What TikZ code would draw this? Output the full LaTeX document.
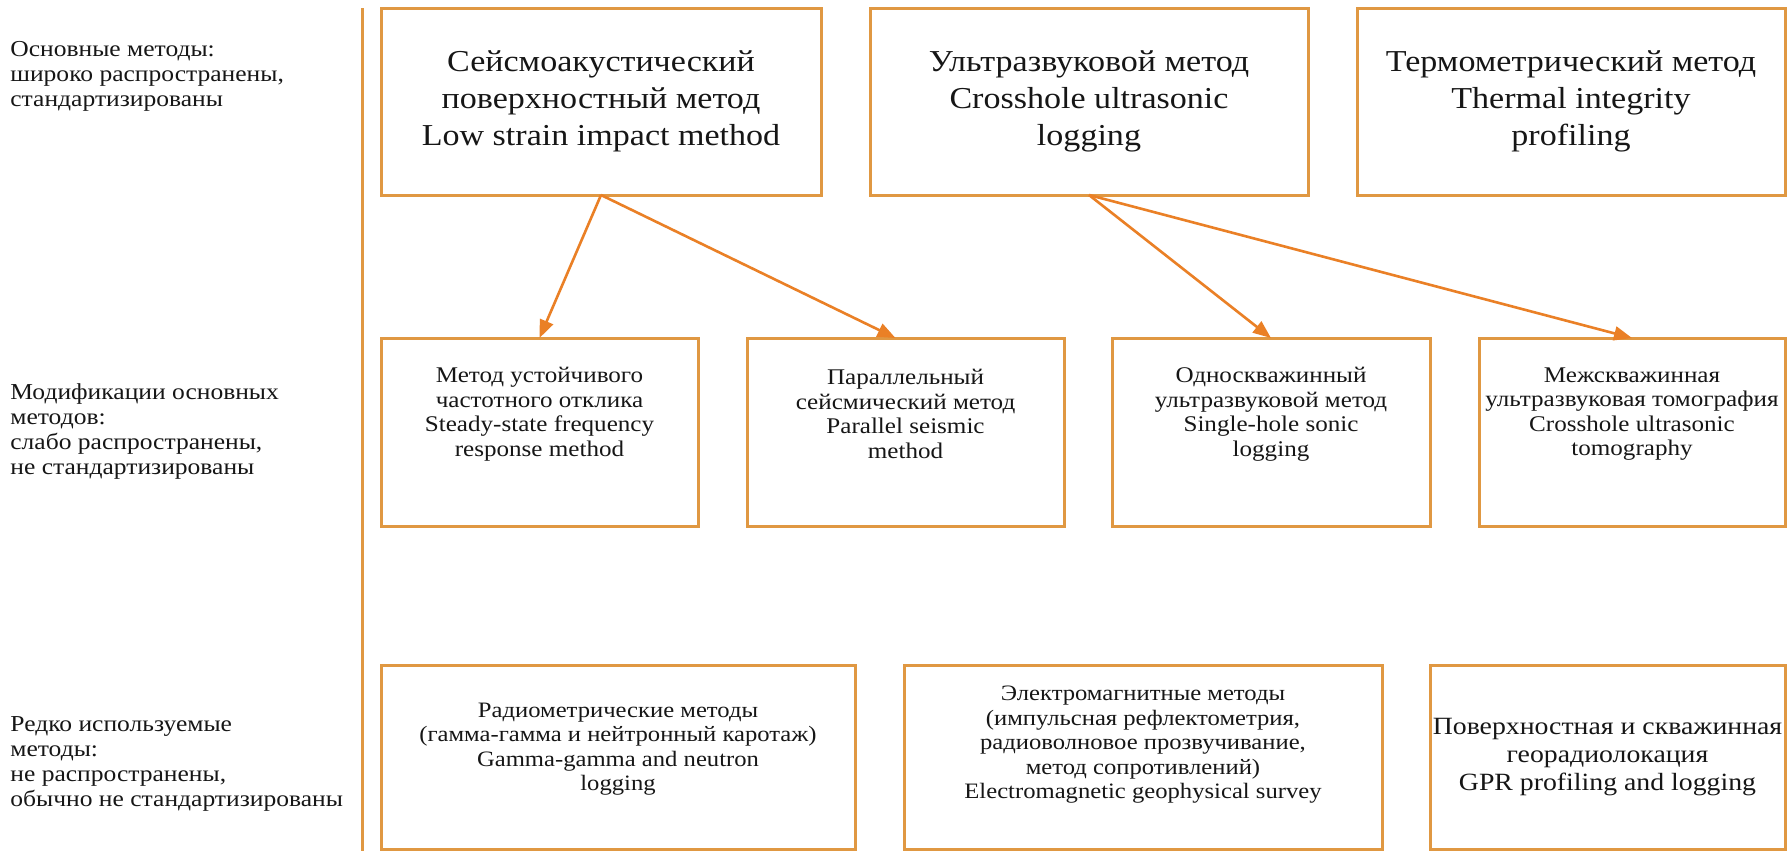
\documentclass[tikz,border=0pt]{standalone}
\usepackage{fontspec}
\setmainfont{Liberation Serif}[FakeStretch=1.12]
\usetikzlibrary{arrows.meta,shadows}
\definecolor{boxc}{RGB}{224,152,66}
\definecolor{shc}{RGB}{190,140,80}
\definecolor{arrc}{RGB}{234,128,38}
\definecolor{txtc}{RGB}{22,22,22}
\begin{document}
\begin{tikzpicture}[x=0.5pt,y=-0.5pt,
  box/.style={draw=boxc,fill=white,line width=1.5pt,inner sep=0pt,outer sep=0pt,rectangle,
    drop shadow={shadow xshift=0.6pt,shadow yshift=-1.2pt,fill=shc,opacity=0.35}},
  txt/.style={align=center,inner sep=0pt,text=txtc},
  topf/.style={font=\fontsize{15.2}{18.5}\selectfont},
  midf/.style={font=\fontsize{11.2}{12.25}\selectfont},
  botf/.style={font=\fontsize{11}{12.25}\selectfont},
  gprf/.style={font=\fontsize{12.4}{14}\selectfont},
  lbl/.style={align=left,anchor=west,inner sep=0pt,text=txtc,font=\fontsize{11.4}{12.5}\selectfont},
  arr/.style={draw=arrc,line width=1.3pt,-{Triangle[length=9pt,width=7pt]}},
]
\useasboundingbox (0,0) rectangle (1787,851);
\fill[white] (0,0) rectangle (1787,851);

% separator line
\coordinate (vtop) at (362,8);
\coordinate (vbot) at (362,851);
\draw[boxc,line width=1.5pt] (vtop) -- (vbot);

% row labels
\node[lbl] (l1) at (10,76) {Основные методы:\\широко распространены,\\стандартизированы};
\node[lbl] (l2) at (10,432) {Модификации основных\\методов:\\слабо распространены,\\не стандартизированы};
\node[lbl] (l3) at (10,764) {Редко используемые\\методы:\\не распространены,\\обычно не стандартизированы};

% top row
\node[box,minimum width=220pt,minimum height=93.5pt] (A) at (601,101.5) {};
\node[box,minimum width=219pt,minimum height=93.5pt] (B) at (1089,101.5) {};
\node[box,minimum width=214pt,minimum height=93.5pt] (C) at (1571,101.5) {};
\node[txt,topf] (At) at (A.center) {Сейсмоакустический\\поверхностный метод\\Low strain impact method};
\node[txt,topf] (Bt) at (B.center) {Ультразвуковой метод\\Crosshole ultrasonic\\logging};
\node[txt,topf] (Ct) at (C.center) {Термометрический метод\\Thermal integrity\\profiling};

% middle row
\node[box,minimum width=158.5pt,minimum height=94pt] (m1) at (539.5,432) {};
\node[box,minimum width=158.5pt,minimum height=94pt] (m2) at (905.5,432) {};
\node[box,minimum width=159pt,minimum height=94pt] (m3) at (1271,432) {};
\node[box,minimum width=153pt,minimum height=94pt] (m4) at (1632,432) {};
\node[txt,midf] (m1t) at ([yshift=9pt]m1.center) {Метод устойчивого\\частотного отклика\\Steady-state frequency\\response method};
\node[txt,midf] (m2t) at ([yshift=9pt]m2.center) {Параллельный\\сейсмический метод\\Parallel seismic\\method};
\node[txt,midf] (m3t) at ([yshift=9pt]m3.center) {Односкважинный\\ультразвуковой метод\\Single-hole sonic\\logging};
\node[txt,midf] (m4t) at ([yshift=9pt]m4.center) {Межскважинная\\ультразвуковая томография\\Crosshole ultrasonic\\tomography};

% bottom row
\node[box,minimum width=237pt,minimum height=92pt] (b1) at (618,757) {};
\node[box,minimum width=239pt,minimum height=92pt] (b2) at (1143,757) {};
\node[box,minimum width=177.5pt,minimum height=92pt] (b3) at (1607.5,757) {};
\node[txt,botf] (b1t) at ([yshift=4pt]b1.center) {Радиометрические методы\\(гамма-гамма и нейтронный каротаж)\\Gamma-gamma and neutron\\logging};
\node[txt,botf] (b2t) at ([yshift=6pt]b2.center) {Электромагнитные методы\\(импульсная рефлектометрия,\\радиоволновое прозвучивание,\\метод сопротивлений)\\Electromagnetic geophysical survey};
\node[txt,gprf] (b3t) at (b3.center) {Поверхностная и скважинная\\георадиолокация\\GPR profiling and logging};

% connectors
\draw[arr] (A.south) -- (m1.north);
\draw[arr] (A.south) -- ([xshift=-5pt]m2.north);
\draw[arr] (B.south) -- (m3.north);
\draw[arr] (B.south) -- (m4.north);
\end{tikzpicture}
\end{document}
